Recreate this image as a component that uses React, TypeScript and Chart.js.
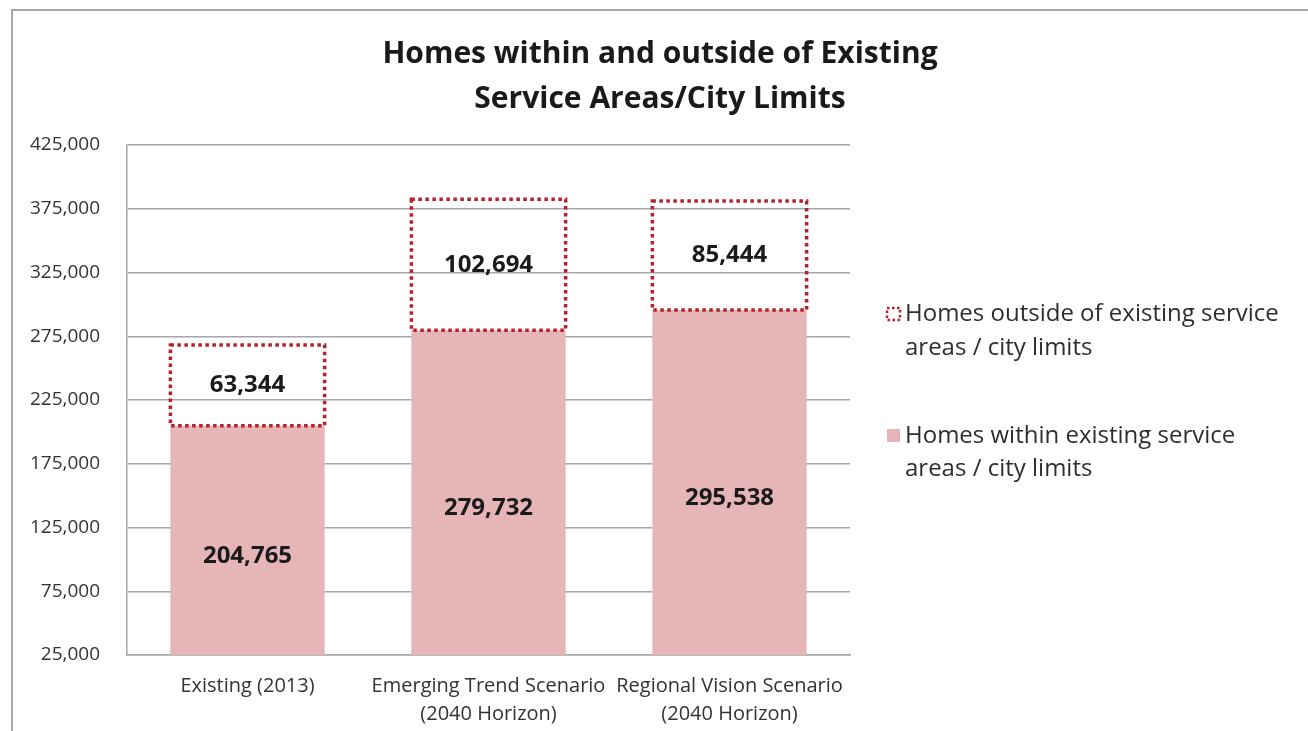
import React, { useEffect, useRef } from "react";
import { Chart, registerables } from "chart.js";

Chart.register(...registerables);

const titleLines = ["Homes within and outside of Existing", "Service Areas/City Limits"];
const categories: (string | string[])[] = [
  "Existing (2013)",
  ["Emerging Trend Scenario", "(2040 Horizon)"],
  ["Regional Vision Scenario", "(2040 Horizon)"],
];
const withinValues = [204765, 279732, 295538];
const outsideValues = [63344, 102694, 85444];
const withinLegend = ["Homes within existing service", "areas / city limits"];
const outsideLegend = ["Homes outside of existing service", "areas / city limits"];
const yMin = 25000;
const yMax = 425000;
const yStep = 50000;

const FONT = "'Open Sans', 'Noto Sans', sans-serif";
const PINK = "#e6b5b8";
const RED = "#b5202c";

const fmt = (v: number) => v.toLocaleString("en-US");

const framePlugin = {
  id: "frame",
  beforeDraw(chart: any) {
    const ctx = chart.ctx;
    ctx.save();
    ctx.fillStyle = "#ffffff";
    ctx.fillRect(0, 0, chart.width, chart.height);
    ctx.strokeStyle = "#a8a8a8";
    ctx.lineWidth = 2;
    ctx.beginPath();
    ctx.moveTo(12, chart.height);
    ctx.lineTo(12, 10);
    ctx.lineTo(chart.width, 10);
    ctx.stroke();
    ctx.restore();
  },
};

const titlePlugin = {
  id: "customTitle",
  afterDraw(chart: any) {
    const ctx = chart.ctx;
    ctx.save();
    ctx.fillStyle = "#1a1a1a";
    ctx.font = `bold 30px ${FONT}`;
    ctx.textAlign = "center";
    ctx.textBaseline = "middle";
    ctx.fillText(titleLines[0], 660, 54);
    ctx.fillText(titleLines[1], 660, 99);
    ctx.restore();
  },
};

const boxPlugin = {
  id: "outsideBoxes",
  afterDatasetsDraw(chart: any) {
    const ctx = chart.ctx;
    const meta = chart.getDatasetMeta(1);
    ctx.save();
    ctx.strokeStyle = RED;
    ctx.lineWidth = 3.5;
    ctx.setLineDash([3.5, 3.5]);
    meta.data.forEach((el: any) => {
      const { x, y, base, width } = el.getProps(["x", "y", "base", "width"], true);
      ctx.strokeRect(x - width / 2, y, width, base - y);
    });
    ctx.restore();
  },
};

const labelPlugin = {
  id: "valueLabels",
  afterDatasetsDraw(chart: any) {
    const ctx = chart.ctx;
    ctx.save();
    ctx.fillStyle = "#1a1a1a";
    ctx.font = `bold 24px ${FONT}`;
    ctx.textAlign = "center";
    ctx.textBaseline = "middle";
    chart.data.datasets.forEach((ds: any, i: number) => {
      const meta = chart.getDatasetMeta(i);
      meta.data.forEach((el: any, j: number) => {
        const { x, y, base } = el.getProps(["x", "y", "base"], true);
        ctx.fillText(fmt(ds.data[j]), x, (y + base) / 2);
      });
    });
    ctx.restore();
  },
};

const legendPlugin = {
  id: "customLegend",
  afterDraw(chart: any) {
    const ctx = chart.ctx;
    ctx.save();
    ctx.strokeStyle = RED;
    ctx.lineWidth = 2.5;
    ctx.setLineDash([2.5, 2.5]);
    ctx.strokeRect(887, 308, 13, 12);
    ctx.setLineDash([]);
    ctx.fillStyle = PINK;
    ctx.fillRect(887, 429, 13, 13);
    ctx.fillStyle = "#2e2e2e";
    ctx.font = `24px ${FONT}`;
    ctx.textAlign = "left";
    ctx.textBaseline = "middle";
    ctx.fillText(outsideLegend[0], 905, 314);
    ctx.fillText(outsideLegend[1], 905, 348);
    ctx.fillText(withinLegend[0], 905, 436);
    ctx.fillText(withinLegend[1], 905, 469);
    ctx.restore();
  },
};

export default function App() {
  const ref = useRef<HTMLCanvasElement | null>(null);
  useEffect(() => {
    if (!ref.current) return;
    const chart = new Chart(ref.current, {
      type: "bar",
      data: {
        labels: categories,
        datasets: [
          {
            label: withinLegend.join(" "),
            data: withinValues,
            backgroundColor: PINK,
            borderWidth: 0,
            barPercentage: 0.64,
            categoryPercentage: 1,
          },
          {
            label: outsideLegend.join(" "),
            data: outsideValues,
            backgroundColor: "rgba(255,255,255,0)",
            borderWidth: 0,
            barPercentage: 0.64,
            categoryPercentage: 1,
          },
        ],
      },
      options: {
        responsive: false,
        animation: false,
        devicePixelRatio: 1,
        layout: { padding: { top: 145, right: 458, left: 0, bottom: 0 } },
        plugins: {
          legend: { display: false },
          title: { display: false },
          tooltip: { enabled: false },
        },
        scales: {
          x: {
            stacked: true,
            grid: { display: false, drawTicks: false },
            border: { display: true, color: "#a6a6a6", width: 1.5 },
            ticks: {
              color: "#333333",
              font: { family: FONT, size: 20, lineHeight: 1.4 },
              padding: 17,
              maxRotation: 0,
              autoSkip: false,
            },
            afterFit: (s: any) => {
              s.height = 76;
            },
          },
          y: {
            stacked: true,
            min: yMin,
            max: yMax,
            grid: { color: "#a6a6a6", lineWidth: 1.5, drawTicks: false },
            border: { display: true, color: "#a6a6a6", width: 1.5 },
            ticks: {
              stepSize: yStep,
              color: "#333333",
              font: { family: FONT, size: 19 },
              padding: 27,
              callback: (v: any) => fmt(Number(v)),
            },
            afterFit: (s: any) => {
              s.width = 127;
            },
          },
        },
      },
      plugins: [framePlugin, boxPlugin, labelPlugin, titlePlugin, legendPlugin],
    });
    return () => chart.destroy();
  }, []);
  return (
    <div style={{ position: "absolute", left: 0, top: 0, width: 1308, height: 731 }}>
      <canvas ref={ref} width={1308} height={731} style={{ display: "block" }} />
    </div>
  );
}
